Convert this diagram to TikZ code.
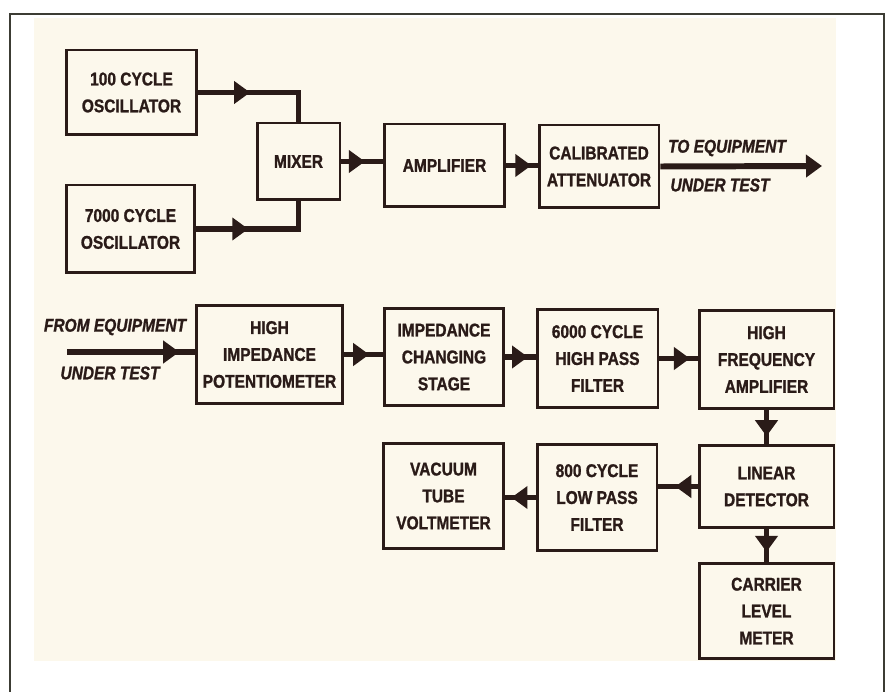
\documentclass[tikz,border=0pt]{standalone}
\usepackage{fontspec}
\setmainfont{Liberation Sans}[FakeStretch=0.84,FakeBold=1.2]
\usetikzlibrary{arrows.meta,decorations.markings}
\definecolor{ink}{HTML}{2A1B18}
\definecolor{paper}{HTML}{FCF8EC}
\definecolor{rim}{HTML}{3C3C34}

\begin{document}
\begin{tikzpicture}[x=0.02cm,y=-0.02cm,font=\fontsize{10.5}{15.3}\selectfont\bfseries,
  blk/.style={draw=ink,line width=1.7pt,align=center,text=ink,inner sep=2pt},
  lbl/.style={text=ink,font=\fontsize{10.5}{15.3}\selectfont\bfseries\itshape},
  wire/.style={draw=ink,line width=3.4pt},
  hd/.tip={Triangle[length=0.32cm,width=0.44cm]},
  flow/.style={wire,decoration={markings,mark=at position #1 with {\arrow{hd}}},postaction={decorate}},
  flow/.default=0.6]
  \useasboundingbox (0,0) rectangle (886,692);
  \fill[white] (0,0) rectangle (886,692);
  \fill[paper] (34,18) rectangle (836,661);
  \draw[rim,line width=1.2pt] (10,692) -- (10,14) -- (884,14) -- (884,692);
  % generator side
  \node[blk,minimum width=2.62cm,minimum height=1.70cm] (osc100) at (131.5,92.5) {100 CYCLE\\OSCILLATOR};
  \node[blk,minimum width=2.58cm,minimum height=1.76cm] (osc7000) at (130.5,229) {7000 CYCLE\\OSCILLATOR};
  \node[blk,minimum width=1.66cm,minimum height=1.54cm] (mixer) at (298.5,161.5) {MIXER};
  \node[blk,minimum width=2.42cm,minimum height=1.66cm] (amp) at (444.5,165.5) {AMPLIFIER};
  \node[blk,minimum width=2.40cm,minimum height=1.66cm] (att) at (599,166.5) {CALIBRATED\\ATTENUATOR};
  \coordinate (out) at (822,166);
  \node[lbl] (tolbl) at (727,148) {TO EQUIPMENT};
  \node[lbl] (tolbl2) at (720,185) {UNDER TEST};
  \draw[flow=0.40] (osc100.east) -| (mixer.north);
  \draw[flow=0.40] (osc7000.east) -| (mixer.south);
  \draw[flow=0.57] (mixer.east) -- (mixer.east -| amp.west);
  \draw[flow=0.80] (amp.east) -- (amp.east -| att.west);
  \draw[wire,-{hd}] (att.east) -- (out);
  % measuring side
  \coordinate (in) at (67,352);
  \node[lbl] (fromlbl) at (115,327) {FROM EQUIPMENT};
  \node[lbl] (fromlbl2) at (110,373) {UNDER TEST};
  \node[blk,minimum width=2.94cm,minimum height=1.98cm] (pot) at (269.5,354.5) {HIGH\\IMPEDANCE\\POTENTIOMETER};
  \node[blk,minimum width=2.40cm,minimum height=1.96cm] (chg) at (444,357) {IMPEDANCE\\CHANGING\\STAGE};
  \node[blk,minimum width=2.42cm,minimum height=1.98cm] (hpf) at (597.5,358.5) {6000 CYCLE\\HIGH PASS\\FILTER};
  \node[blk,minimum width=2.70cm,minimum height=1.98cm] (hfamp) at (766.5,359.5) {HIGH\\FREQUENCY\\AMPLIFIER};
  \node[blk,minimum width=2.70cm,minimum height=1.66cm] (det) at (766.5,486.5) {LINEAR\\DETECTOR};
  \node[blk,minimum width=2.40cm,minimum height=2.14cm] (lpf) at (597,497.5) {800 CYCLE\\LOW PASS\\FILTER};
  \node[blk,minimum width=2.42cm,minimum height=2.12cm] (vtvm) at (443.5,496) {VACUUM\\TUBE\\VOLTMETER};
  \node[blk,minimum width=2.70cm,minimum height=1.92cm] (meter) at (766.5,611) {CARRIER\\LEVEL\\METER};
  \draw[flow=0.88] (in) -- (in -| pot.west);
  \foreach \a/\b/\p in {pot/chg/0.65,chg/hpf/0.75,hpf/hfamp/0.80}
    \draw[flow=\p] (\a.east) -- (\a.east -| \b.west);
  \draw[flow=0.78] (hfamp.south) -- (det.north);
  \draw[flow=0.57] (det.west) -- (det.west -| lpf.east);
  \draw[flow=0.80] (lpf.west) -- (lpf.west -| vtvm.east);
  \draw[flow=0.70] (det.south) -- (meter.north);
\end{tikzpicture}
\end{document}
